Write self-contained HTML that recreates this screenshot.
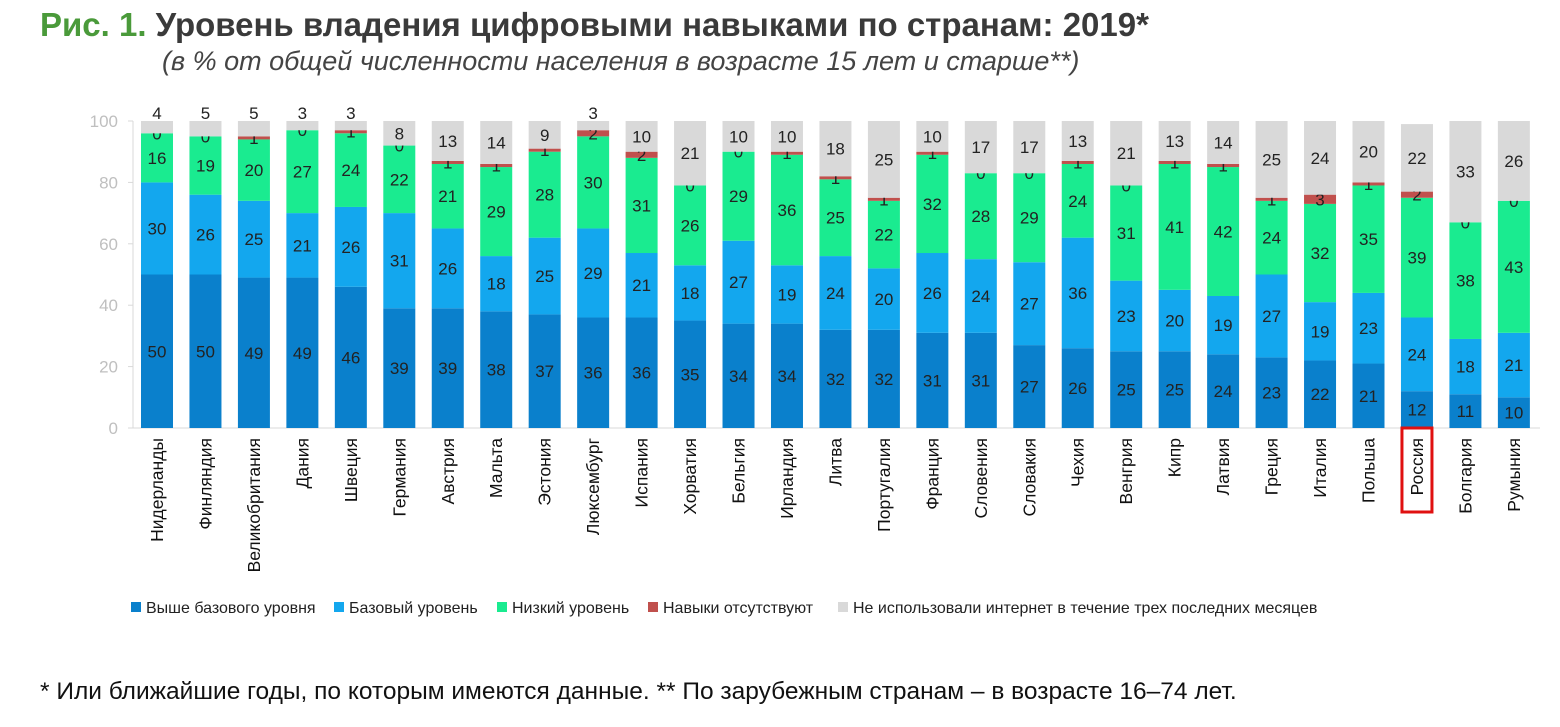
<!DOCTYPE html>
<html><head><meta charset="utf-8">
<style>
body{margin:0;background:#fff;width:1560px;height:727px;overflow:hidden;font-family:"Liberation Sans","DejaVu Sans",sans-serif;}
#title{position:absolute;left:40px;top:6px;font-size:33px;font-weight:bold;color:#3a3a3a;white-space:nowrap}
#title span{color:#4a9a3a}
#sub{position:absolute;left:162px;top:46px;font-size:27px;font-style:italic;color:#444;white-space:nowrap}
#foot{position:absolute;left:40px;top:678px;font-size:24.5px;color:#111;white-space:nowrap}
svg{position:absolute;left:0;top:0}
</style></head><body>
<div id="title"><span>Рис. 1.</span> Уровень владения цифровыми навыками по странам: 2019*</div>
<div id="sub">(в % от общей численности населения в возрасте 15 лет и старше**)</div>
<div id="foot">* Или ближайшие годы, по которым имеются данные. ** По зарубежным странам – в возрасте 16–74 лет.</div>
<svg id="chart" width="1560" height="727"></svg>
<script>
const countries=["Нидерланды","Финляндия","Великобритания","Дания","Швеция","Германия","Австрия","Мальта","Эстония","Люксембург","Испания","Хорватия","Бельгия","Ирландия","Литва","Португалия","Франция","Словения","Словакия","Чехия","Венгрия","Кипр","Латвия","Греция","Италия","Польша","Россия","Болгария","Румыния"];
const above=[50,50,49,49,46,39,39,38,37,36,36,35,34,34,32,32,31,31,27,26,25,25,24,23,22,21,12,11,10];
const basic=[30,26,25,21,26,31,26,18,25,29,21,18,27,19,24,20,26,24,27,36,23,20,19,27,19,23,24,18,21];
const low=[16,19,20,27,24,22,21,29,28,30,31,26,29,36,25,22,32,28,29,24,31,41,42,24,32,35,39,38,43];
const none=[0,0,1,0,1,0,1,1,1,2,2,0,0,1,1,1,1,0,0,1,0,1,1,1,3,1,2,0,0];
const noNet=[4,5,5,3,3,8,13,14,9,3,10,21,10,10,18,25,10,17,17,13,21,13,14,25,24,20,22,33,26];
const yTicks=[0,20,40,60,80,100];
const seriesNames=["Выше базового уровня","Базовый уровень","Низкий уровень","Навыки отсутствуют","Не использовали интернет в течение трех последних месяцев"];
const colors=["#0a80cc","#13a7ee","#1aeb90","#c0504d","#d9d9d9"];
const svg=document.getElementById('chart');const NS="http://www.w3.org/2000/svg";
function y(v){return 428-v*3.07;}
function x(i){return 157+i*48.46;}
function mk(t,a,p){const e=document.createElementNS(NS,t);for(const k in a)e.setAttribute(k,a[k]);(p||svg).appendChild(e);return e;}
mk('line',{x1:133,y1:y(0),x2:133,y2:y(100),stroke:'#d9d9d9'});
yTicks.forEach(v=>{
 mk('line',{x1:128,y1:y(v),x2:133,y2:y(v),stroke:'#d9d9d9'});
 const t=mk('text',{x:118,y:y(v)+6,'text-anchor':'end','font-size':17,fill:'#bfbfbf'});t.textContent=v;
 
 
});
mk('line',{x1:133,y1:y(0),x2:1540,y2:y(0),stroke:'#d9d9d9'});
const series=[above,basic,low,none,noNet];
countries.forEach((c,i)=>{
 let base=0;const cx=x(i);
 series.forEach((s,k)=>{
  const v=s[i];const top=Math.min(base+v,100);
  const r=mk('rect',{x:cx-16,y:y(top),width:32,height:Math.max(0,y(base)-y(top)),fill:colors[k]});
  
  
  let ly=(y(base)+y(base+v))/2;
  if(k===4&&v<6) ly=y(100)-8;
  const t=mk('text',{x:cx,y:ly+6,'text-anchor':'middle','font-size':17,fill:'#222'});t.textContent=v;
  
  
  base+=v;
 });
 const t=mk('text',{transform:`translate(${cx+6},438) rotate(-90)`,'text-anchor':'end','font-size':17.5,fill:'#111'});t.textContent=c;
 
 
 if(c==="Россия"){const b=mk('rect',{x:cx-15,y:428,width:30,height:84,fill:'none',stroke:'#e01010','stroke-width':3});
  
  }
});
const lx=[131,334,497,648,838];
seriesNames.forEach((n,k)=>{
 const g=mk('g',{});
 
 
 mk('rect',{x:lx[k],y:602,width:10,height:10,fill:colors[k]},g);
 const t=mk('text',{x:lx[k]+15,y:613,'font-size':16,fill:'#222'},g);t.textContent=n;
});
</script>
</body></html>
